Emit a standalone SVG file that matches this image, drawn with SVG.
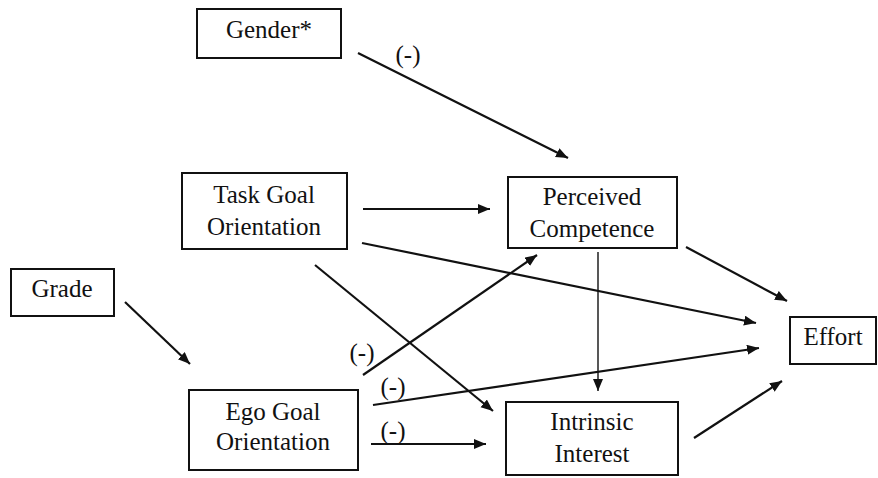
<svg xmlns="http://www.w3.org/2000/svg" width="878" height="478" viewBox="0 0 878 478">
<style>
.box{fill:#fff;stroke:#111;stroke-width:2}
.t{font-family:"Liberation Serif","Times New Roman",serif;font-size:25px;fill:#111;text-anchor:middle}
.lb{font-family:"Liberation Serif","Times New Roman",serif;font-size:25px;fill:#111;text-anchor:middle}
.c{stroke:#111;stroke-width:2.2;fill:none;marker-end:url(#ah)}
.thin{stroke-width:1.4}
</style>
<defs>
<marker id="ah" markerUnits="userSpaceOnUse" markerWidth="14" markerHeight="12" refX="12" refY="5" orient="auto">
<path d="M0,0 L12,5 L0,10 Z" fill="#111"/>
</marker>
</defs>
<rect width="878" height="478" fill="#fff"/>
<g id="connectors">
<line class="c" x1="358" y1="53" x2="568" y2="158"/>
<line class="c" x1="363" y1="209" x2="490" y2="209"/>
<line class="c" x1="686" y1="247" x2="787" y2="301"/>
<line class="c" x1="362" y1="243" x2="756" y2="323"/>
<line class="c thin" x1="598" y1="252" x2="598" y2="391"/>
<line class="c" x1="315" y1="265" x2="493" y2="411"/>
<line class="c" x1="363" y1="375" x2="537" y2="255"/>
<line class="c" x1="373" y1="405" x2="759" y2="348"/>
<line class="c" x1="371" y1="444" x2="486" y2="444"/>
<line class="c" x1="694" y1="438" x2="782" y2="381"/>
<line class="c" x1="125" y1="302" x2="190" y2="364"/>
<text class="lb" x="408" y="63">(-)</text>
<text class="lb" x="362" y="361">(-)</text>
<text class="lb" x="393" y="395">(-)</text>
<text class="lb" x="393" y="439">(-)</text>
</g>
<g id="gender">
<rect class="box" x="197" y="9" width="144" height="49"/>
<text class="t" x="269" y="38">Gender*</text>
</g>
<g id="task">
<rect class="box" x="182" y="173" width="165" height="76"/>
<text class="t" x="264" y="203">Task Goal</text>
<text class="t" x="264" y="235">Orientation</text>
</g>
<g id="competence">
<rect class="box" x="508" y="177" width="169" height="71"/>
<text class="t" x="592" y="205">Perceived</text>
<text class="t" x="592" y="237">Competence</text>
</g>
<g id="grade">
<rect class="box" x="11" y="269" width="103" height="47"/>
<text class="t" x="62" y="297">Grade</text>
</g>
<g id="ego">
<rect class="box" x="189" y="390" width="169" height="80"/>
<text class="t" x="273" y="420">Ego Goal</text>
<text class="t" x="273" y="450">Orientation</text>
</g>
<g id="interest">
<rect class="box" x="506" y="402" width="172" height="73"/>
<text class="t" x="592" y="430">Intrinsic</text>
<text class="t" x="592" y="462">Interest</text>
</g>
<g id="effort">
<rect class="box" x="790" y="317" width="86" height="47"/>
<text class="t" x="833" y="345">Effort</text>
</g>
</svg>
